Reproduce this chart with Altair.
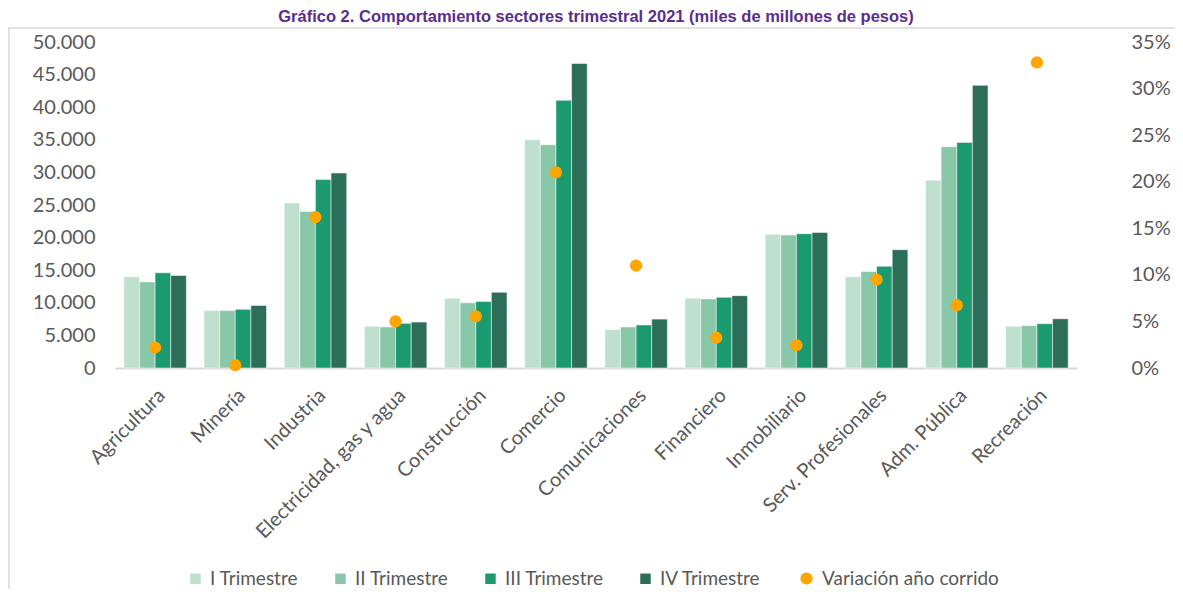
import altair as alt
import pandas as pd

categorias = ["Agricultura", "Minería", "Industria", "Electricidad, gas y agua",
              "Construcción", "Comercio", "Comunicaciones", "Financiero",
              "Inmobiliario", "Serv. Profesionales", "Adm. Pública", "Recreación"]
trimestres = ["I Trimestre", "II Trimestre", "III Trimestre", "IV Trimestre"]
t1 = [14000, 8800, 25300, 6400, 10700, 35000, 5900, 10700, 20500, 14000, 28800, 6400]
t2 = [13200, 8800, 24000, 6300, 10000, 34250, 6300, 10600, 20400, 14800, 33950, 6500]
t3 = [14600, 9000, 28900, 6850, 10200, 41050, 6600, 10850, 20600, 15600, 34600, 6800]
t4 = [14200, 9600, 29900, 7050, 11600, 46700, 7500, 11100, 20800, 18150, 43350, 7550]
variacion = [2.2, 0.3, 16.2, 5.0, 5.55, 21.0, 11.0, 3.25, 2.45, 9.5, 6.75, 32.8]
serie_var = "Variación año corrido"
colores = ["#c0e0cf", "#88c8a8", "#1b9a6f", "#2d6e58"]
naranja = "#ffa500"
titulo = "Gráfico 2. Comportamiento sectores trimestral 2021  (miles de millones de pesos)"

rows = []
for serie, vals in zip(trimestres, [t1, t2, t3, t4]):
    for c, v in zip(categorias, vals):
        rows.append({"categoria": c, "trimestre": serie, "valor": v})
df_bars = pd.DataFrame(rows)
df_var = pd.DataFrame({"categoria": categorias, "var": variacion, "serie": [serie_var] * len(categorias)})

FONT = "Lato"
GRAY = "#595959"

x_enc = alt.X("categoria:N", sort=categorias, title=None,
              scale=alt.Scale(paddingInner=0.22, paddingOuter=0.11),
              axis=alt.Axis(labelAngle=-45, labelFontSize=20, labelColor=GRAY, labelFont=FONT,
                            labelPadding=17, ticks=False, domainColor="#d9d9d9", domainWidth=2,
                            labelLimit=300))

bars = alt.Chart(df_bars).mark_bar(stroke="white", strokeWidth=0.5).encode(
    x=x_enc,
    xOffset=alt.XOffset("trimestre:N", sort=trimestres, scale=alt.Scale(paddingInner=0)),
    y=alt.Y("valor:Q", title=None,
            scale=alt.Scale(domain=[0, 50000], nice=False),
            axis=alt.Axis(orient="left", values=list(range(0, 50001, 5000)),
                          labelExpr="replace(format(datum.value, ','), ',', '.')",
                          labelFontSize=20, labelColor=GRAY, labelFont=FONT, labelPadding=20,
                          ticks=False, domain=False, grid=False)),
    color=alt.Color("trimestre:N", sort=trimestres,
                    scale=alt.Scale(domain=trimestres, range=colores),
                    legend=alt.Legend(orient="none", legendX=71, legendY=527, direction="horizontal",
                                      columns=4, title=None, symbolType="square", symbolSize=110,
                                      symbolStrokeWidth=0, labelFontSize=19, labelColor=GRAY,
                                      labelFont=FONT, columnPadding=32, labelOffset=5, padding=0,
                                      labelLimit=300)),
)

points = alt.Chart(df_var).mark_circle(size=150, opacity=1).encode(
    x=alt.X("categoria:N", sort=categorias),
    y=alt.Y("var:Q", title=None,
            scale=alt.Scale(domain=[0, 35], nice=False),
            axis=alt.Axis(orient="right", values=list(range(0, 36, 5)),
                          labelExpr="datum.value + '%'", labelAlign="left",
                          labelFontSize=20, labelColor=GRAY, labelFont=FONT, labelPadding=54,
                          ticks=False, domain=False, grid=False)),
    color=alt.Color("serie:N", scale=alt.Scale(domain=[serie_var], range=[naranja]),
                    legend=alt.Legend(orient="none", legendX=682, legendY=527, title=None,
                                      symbolType="circle", symbolSize=150, symbolStrokeWidth=0,
                                      labelFontSize=19, labelColor=GRAY, labelFont=FONT,
                                      labelOffset=6, padding=0, labelLimit=300)),
)

title_df = pd.DataFrame({"t": [titulo]})
title_mark = alt.Chart(title_df).mark_text(
    font="Liberation Sans", fontSize=16.5, fontWeight="bold", color="#5b2d8e",
    baseline="alphabetic", align="center").encode(
    text="t:N", x=alt.value(481), y=alt.value(-20))

line_df = pd.DataFrame({"k": [1]})
top_line = alt.Chart(line_df).mark_rule(color="#d9d9d9", strokeWidth=1.5).encode(
    x=alt.value(-107), x2=alt.value(1060), y=alt.value(-14))
left_line = alt.Chart(line_df).mark_rule(color="#d9d9d9", strokeWidth=1.5).encode(
    x=alt.value(-106), y=alt.value(-14), y2=alt.value(560))

chart = alt.layer(bars, points, title_mark, top_line, left_line).resolve_scale(
    y="independent", color="independent"
).properties(
    width=962, height=326,
    autosize=alt.AutoSizeParams(type="none"),
    padding={"left": 107, "top": 34, "right": 98, "bottom": 221},
).configure_view(stroke=None)

chart.save("out.html", embed_options={"renderer": "svg", "actions": False})
